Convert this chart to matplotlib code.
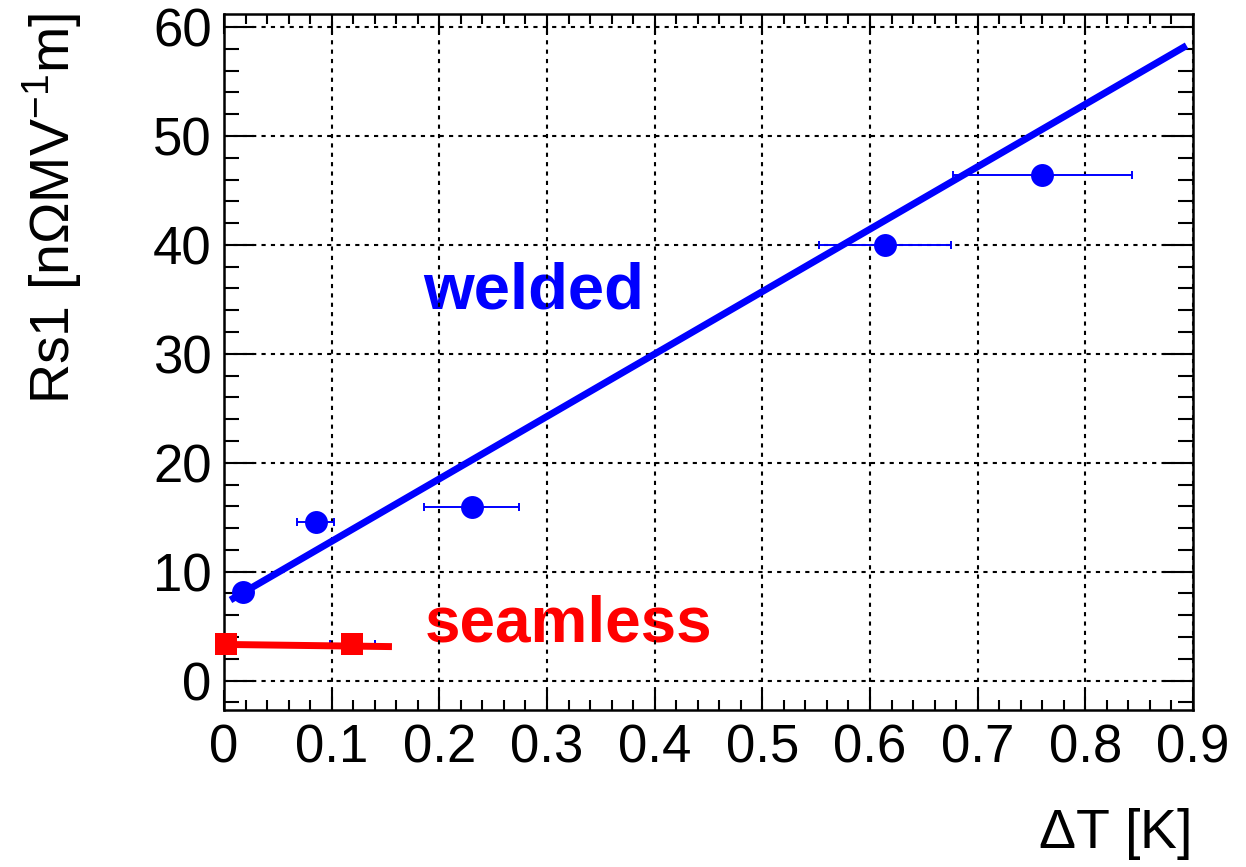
import numpy as np
import matplotlib.pyplot as plt
from matplotlib.ticker import MultipleLocator

plt.rcParams['font.family'] = ['Liberation Sans', 'DejaVu Sans']
plt.rcParams['mathtext.fontset'] = 'custom'
plt.rcParams['mathtext.rm'] = 'Liberation Sans'
plt.rcParams['mathtext.it'] = 'Liberation Sans'

# welded cavities
welded_dt = [0.018, 0.085, 0.230, 0.614, 0.760]
welded_rs = [8.1, 14.6, 15.9, 40.0, 46.4]
welded_dt_err = [0.0, 0.017, 0.044, 0.061, 0.083]
welded_fit_x = [0.006, 0.894]
welded_fit_y = [7.4, 58.3]

# seamless cavities
seamless_dt = [0.002, 0.119]
seamless_rs = [3.34, 3.36]
seamless_dt_err = [0.0, 0.021]
seamless_fit_x = [0.0, 0.156]
seamless_fit_y = [3.32, 3.12]

blue = '#0000ff'
red = '#ff0000'

fig = plt.figure(figsize=(12.46, 8.67), dpi=100)
ax = fig.add_axes([224/1246, 1 - 710/867, (1193 - 224)/1246, (710 - 14)/867])

# blue x-error of seamless point (mostly hidden behind red line)
ax.errorbar(seamless_dt, seamless_rs, xerr=seamless_dt_err, fmt='none',
            ecolor=blue, elinewidth=1.4, capsize=3, capthick=1.4, zorder=2)

ax.plot(welded_fit_x, welded_fit_y, color=blue, lw=5, solid_capstyle='butt', zorder=3)
ax.errorbar(welded_dt, welded_rs, xerr=welded_dt_err, fmt='none', ecolor=blue,
            elinewidth=1.4, capsize=3, capthick=1.4, zorder=4)
ax.plot(welded_dt, welded_rs, 'o', color=blue, ms=16.5, mew=0, zorder=5)

ax.plot(seamless_fit_x, seamless_fit_y, color=red, lw=5, solid_capstyle='butt', zorder=3)
ax.plot(seamless_dt, seamless_rs, 's', color=red, ms=16, mew=0, zorder=4, clip_on=False)

ax.text(0.185, 34.2, 'welded', color=blue, fontsize=47, fontweight='bold',
        va='baseline', ha='left', zorder=1)
ax.text(0.186, 3.6, 'seamless', color=red, fontsize=46, fontweight='bold',
        va='baseline', ha='left', zorder=1)

ax.set_xlim(0, 0.9)
ax.set_ylim(-2.7, 61.2)
ax.xaxis.set_minor_locator(MultipleLocator(0.02))
ax.yaxis.set_major_locator(MultipleLocator(10))
ax.yaxis.set_minor_locator(MultipleLocator(2))
ax.set_xticks(np.arange(0, 0.91, 0.1))
ax.set_xticklabels(['0'] + ['%.1f' % v for v in np.arange(0.1, 0.91, 0.1)])

ax.tick_params(axis='both', which='both', direction='in', top=True, right=True,
               width=1.5, labelsize=38)
ax.tick_params(axis='x', which='major', length=14.4, pad=10)
ax.tick_params(axis='x', which='minor', length=7.2)
ax.tick_params(axis='y', which='major', length=21.6, pad=9)
ax.tick_params(axis='y', which='minor', length=10.8)
for s in ax.spines.values():
    s.set_linewidth(1.8)

ax.grid(True, which='major', color='black', lw=1.5, linestyle=(0, (2, 2.5)))

fig.text(1190/1246, 1 - 848/867, r'$\Delta$T [K]', fontsize=40, ha='right', va='baseline')
fig.text(52/1246, 1 - 13/867, r'Rs1 [n$\Omega$MV$^{-1}$m]', fontsize=40,
         rotation=90, ha='center', va='top')

fig.savefig('out.png', dpi=100)
